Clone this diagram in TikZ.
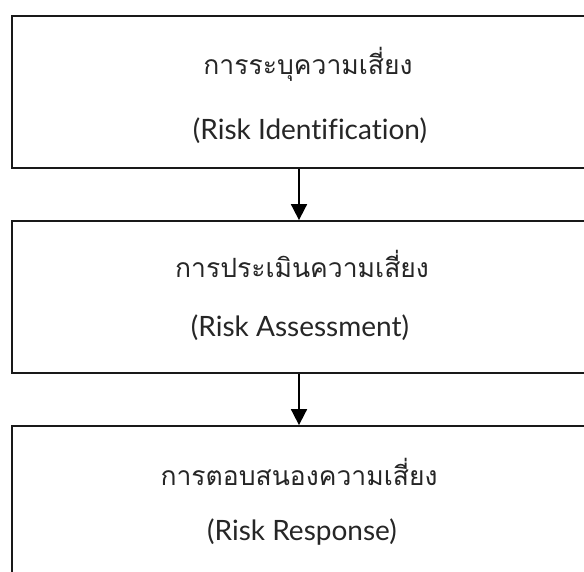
\documentclass[tikz,border=0pt]{standalone}
\usepackage{fontspec}
\setmainfont{Lato}[Ligatures={NoCommon}]
\newfontfamily\thaifont[Script=Thai]{Loma}
\usetikzlibrary{arrows.meta}
\tikzset{
  stepbox/.style={draw=black!90, line width=1.8pt, rectangle, minimum width=586pt, minimum height=152pt, inner sep=0pt},
  thaitext/.style={anchor=base, inner sep=0pt, font=\thaifont\fontsize{26.5pt}{30pt}\selectfont, text=black!85},
  entext/.style={anchor=base, inner sep=0pt, font=\fontsize{28pt}{30pt}\selectfont, text=black!85},
  flow/.style={line width=1.8pt, -{Triangle[width=16pt,length=16pt]}}
}
\begin{document}
\begin{tikzpicture}[x=1pt,y=-1pt]
\useasboundingbox (0,0) rectangle (584,572);
\fill[white] (0,0) rectangle (584,572);
\begin{scope}
\clip (0,0) rectangle (584,572);
\node[stepbox] (b1) at (305,92) {};
\node[stepbox] (b2) at (305,297) {};
\node[stepbox] (b3) at (305,502) {};
\node[thaitext] (t1) at (308,75) {การระบุความเสี่ยง};
\node[entext] (e1) at (310,140) {(Risk Identification)};
\node[thaitext] (t2) at (302,278) {การประเมินความเสี่ยง};
\node[entext] (e2) at (300,336) {(Risk Assessment)};
\node[thaitext] (t3) at (299,485) {การตอบสนองความเสี่ยง};
\node[entext] (e3) at (302,540) {(Risk Response)};
\coordinate (ax) at (299,0);
\draw[flow] (b1.south -| ax) -- (b2.north -| ax);
\draw[flow] (b2.south -| ax) -- (b3.north -| ax);
\end{scope}
\end{tikzpicture}
\end{document}
